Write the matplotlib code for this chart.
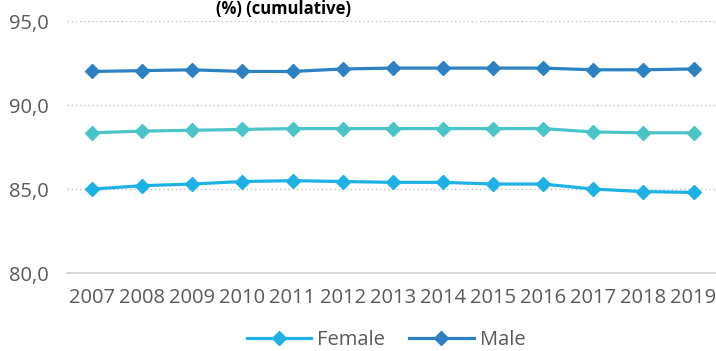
import matplotlib.pyplot as plt

# --------------------------------
# Data
# --------------------------------

years = ["2007", "2008", "2009", "2010", "2011", "2012", "2013",
         "2014", "2015", "2016", "2017", "2018", "2019"]

male = [92.0, 92.05, 92.1, 92.0, 92.0, 92.15, 92.2,
        92.2, 92.2, 92.2, 92.1, 92.1, 92.15]
total = [88.35, 88.45, 88.5, 88.55, 88.6, 88.6, 88.6,
         88.6, 88.6, 88.6, 88.4, 88.35, 88.35]
female = [85.0, 85.2, 85.3, 85.45, 85.5, 85.45, 85.4,
          85.4, 85.3, 85.3, 85.0, 84.85, 84.8]

yticks = [80, 85, 90, 95]

plt.rcParams["font.family"] = ["Open Sans", "DejaVu Sans"]

# --------------------------------
# Plot
# --------------------------------

fig = plt.figure(figsize=(7.16, 3.51), dpi=100)
ax = fig.add_axes([0.0936, 0.222, 0.91, 0.718])

x = range(len(years))
ax.plot(x, male, color="#2C81C2", lw=2.3, marker="D", ms=7, label="Male")
ax.plot(x, total, color="#4BC4C8", lw=2.3, marker="D", ms=7, label="_total")
ax.plot(x, female, color="#1DB1E6", lw=2.3, marker="D", ms=7, label="Female")

ax.set_xlim(-0.5, len(years) - 0.5)
ax.set_ylim(80, 95)
ax.set_yticks(yticks)
ax.set_yticklabels([f"{v:.1f}".replace(".", ",") for v in yticks])
ax.set_xticks(list(x))
ax.set_xticklabels(years)

ax.grid(axis="y", linestyle=(0, (1, 2)), color="#BFBFBF", lw=1)
ax.set_axisbelow(True)
for side in ["top", "right", "left"]:
    ax.spines[side].set_visible(False)
ax.spines["bottom"].set_color("#D0D0D0")
ax.spines["bottom"].set_linewidth(1.2)
ax.tick_params(length=0, labelsize=14.5, labelcolor="#595959")
ax.tick_params(axis="y", pad=13)
ax.tick_params(axis="x", pad=11)

handles, labels = ax.get_legend_handles_labels()
order = [labels.index("Female"), labels.index("Male")]
fig.legend([handles[i] for i in order], [labels[i] for i in order],
           loc="center", bbox_to_anchor=(386 / 716, 1 - 340 / 351),
           ncol=2, frameon=False, fontsize=14.5, labelcolor="#595959",
           handlelength=3.2, columnspacing=1.2, handletextpad=0.3)

fig.text(284 / 716, 1 - 14 / 351, "(%) (cumulative)", ha="center",
         va="baseline", fontsize=12, fontweight="bold", color="black")

fig.savefig("out.png", dpi=100)
